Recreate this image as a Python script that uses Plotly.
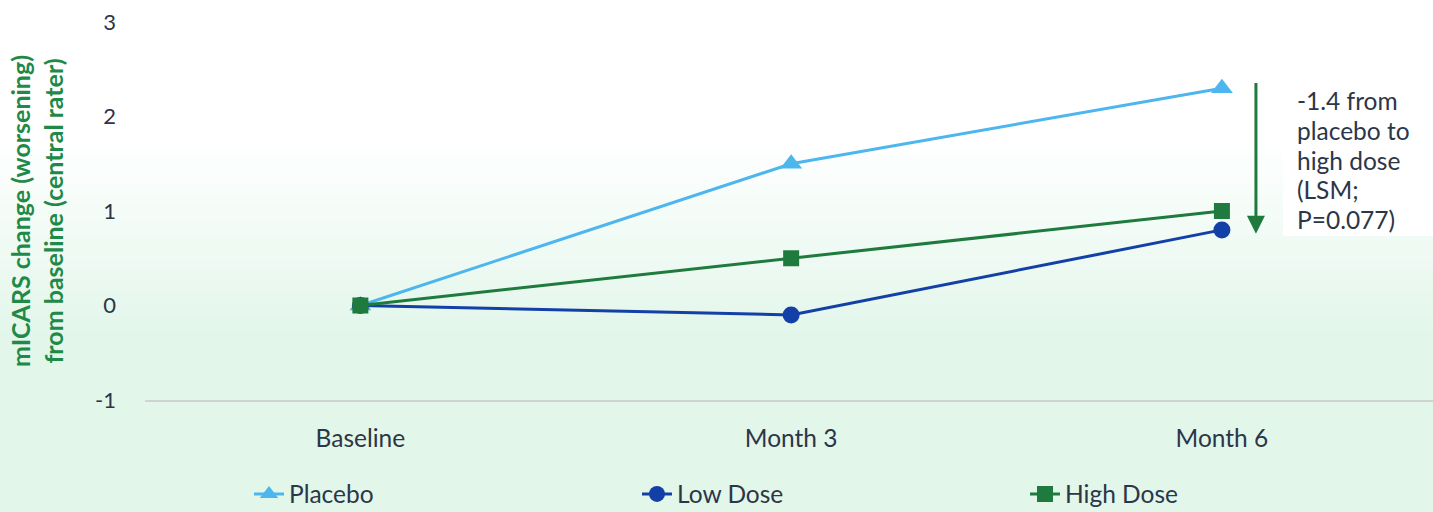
import plotly.graph_objects as go

categories = ["Baseline", "Month 3", "Month 6"]
placebo = [0, 1.5, 2.3]
low_dose = [0, -0.1, 0.8]
high_dose = [0, 0.5, 1.0]
y_ticks = [-1, 0, 1, 2, 3]
y_tick_labels = ["-1", "0", "1", "2", "3"]
note_lines = ["-1.4 from", "placebo to", "high dose", "(LSM;", "P=0.077)"]

W, H = 1433, 512
L, R, T, B = 145, 0, 22, 112
pw, ph = W - L - R, H - T - B

def px(x):
    return (x - L) / pw

def py(y):
    return (H - B - y) / ph

fig = go.Figure()
fig.add_trace(go.Scatter(x=categories, y=placebo, name="Placebo", mode="lines+markers",
                         line=dict(color="#4db6ee", width=3),
                         marker=dict(symbol="triangle-up", size=19, color="#4db6ee")))
fig.add_trace(go.Scatter(x=categories, y=low_dose, name="Low Dose", mode="lines+markers",
                         line=dict(color="#1240a6", width=3),
                         marker=dict(symbol="circle", size=17, color="#1240a6")))
fig.add_trace(go.Scatter(x=categories, y=high_dose, name="High Dose", mode="lines+markers",
                         line=dict(color="#1e7b3d", width=3),
                         marker=dict(symbol="square", size=16, color="#1e7b3d")))

shapes = []
top_col = (255, 255, 255)
bot_col = (226, 246, 234)
g0, g1, n = 140, 340, 40
shapes.append(dict(type="rect", xref="paper", yref="paper", x0=px(0), x1=px(W),
                   y0=py(g0), y1=py(0), fillcolor="white", line_width=0, layer="below"))
for i in range(n):
    y0 = g0 + (g1 - g0) * i / n
    y1 = g0 + (g1 - g0) * (i + 1) / n + 0.5
    t = (i + 0.5) / n
    c = tuple(round(top_col[k] + (bot_col[k] - top_col[k]) * t) for k in range(3))
    shapes.append(dict(type="rect", xref="paper", yref="paper", x0=px(0), x1=px(W),
                       y0=py(y1), y1=py(y0), fillcolor="rgb(%d,%d,%d)" % c,
                       line_width=0, layer="below"))
shapes.append(dict(type="rect", xref="paper", yref="paper", x0=px(1283), x1=px(W),
                   y0=py(236), y1=py(78), fillcolor="white", line_width=0, layer="below"))

annotations = [
    dict(x=2.079, y=0.76, xref="x", yref="y", ax=2.079, ay=2.37, axref="x", ayref="y",
         showarrow=True, arrowhead=2, arrowsize=1.2, arrowwidth=3, arrowcolor="#1e7b3d",
         text=""),
]
for i, line in enumerate(note_lines):
    annotations.append(dict(x=px(1295), y=py(101 + 29.5 * i), xref="paper", yref="paper",
                            xanchor="left", yanchor="middle", align="left", showarrow=False,
                            text=line, font=dict(size=24.5, color="#2b3648")))

fig.update_layout(
    width=W, height=H,
    margin=dict(l=L, r=R, t=T, b=B, autoexpand=False),
    paper_bgcolor="rgb(226,246,234)",
    plot_bgcolor="rgba(0,0,0,0)",
    font=dict(family="Lato", color="#2b3648", size=24),
    shapes=shapes,
    showlegend=True,
    legend=dict(orientation="h", x=px(249), xanchor="left", y=py(494), yanchor="middle",
                font=dict(size=24.5, color="#2b3648"), entrywidth=343, entrywidthmode="pixels",
                bgcolor="rgba(0,0,0,0)", itemwidth=30),
    xaxis=dict(range=[-0.5, 2.49], showgrid=False, zeroline=False, showline=True,
               linecolor="#cfd4d2", linewidth=2, ticks="", ticklabelstandoff=16,
               tickfont=dict(size=24.5, color="#2b3648")),
    yaxis=dict(range=[-1, 3], tickvals=y_ticks, ticktext=y_tick_labels, showgrid=False,
               zeroline=False, showline=False, ticks="", ticklabelstandoff=28,
               tickfont=dict(size=22, color="#2b3648")),
    annotations=annotations,
)
fig.update_yaxes(title=dict(text="mICARS change (worsening)<br>from baseline (central rater)",
                            font=dict(size=25, color="#1f8a48", family="Lato", weight="bold"),
                            standoff=24))

fig.write_html("out.html", config={"displayModeBar": False},
               post_script="document.body.style.margin='0';")
